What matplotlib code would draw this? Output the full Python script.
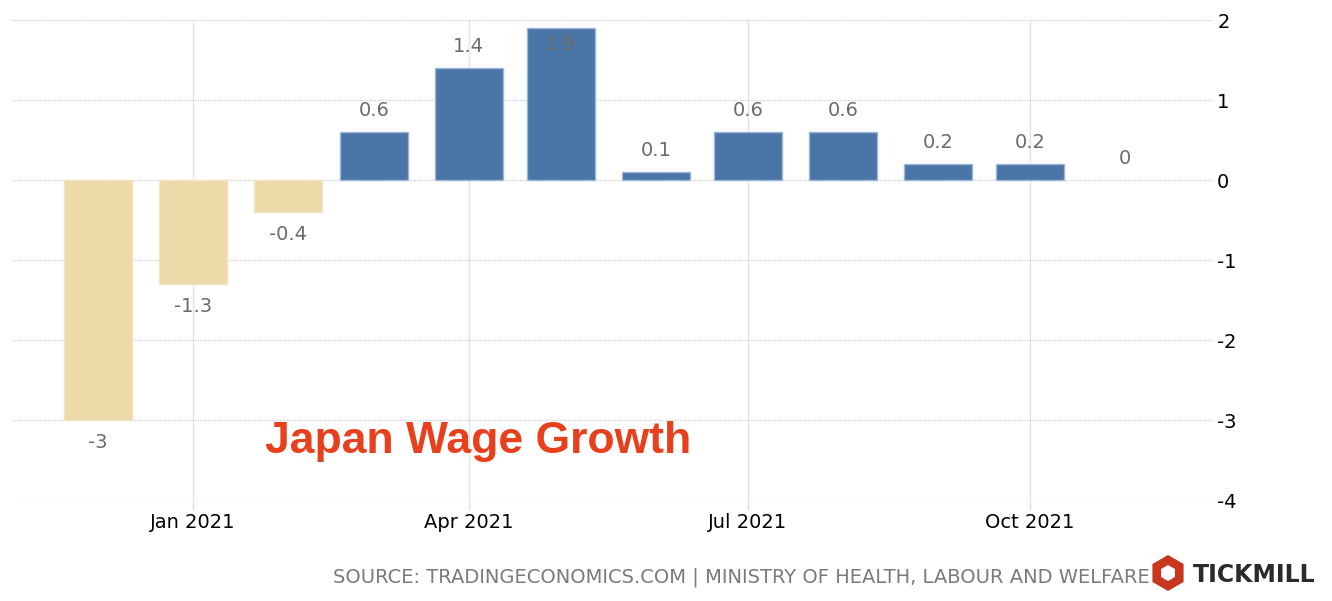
import numpy as np
import pandas as pd
import matplotlib
matplotlib.use("Agg")
import matplotlib.pyplot as plt
import matplotlib.dates as mdates
from matplotlib.patches import RegularPolygon

months = pd.date_range("2020-12-01", "2021-11-01", freq="MS")
values = [-3, -1.3, -0.4, 0.6, 1.4, 1.9, 0.1, 0.6, 0.6, 0.2, 0.2, 0]
labels = ["-3", "-1.3", "-0.4", "0.6", "1.4", "1.9", "0.1", "0.6", "0.6", "0.2", "0.2", "0"]
xticks = pd.to_datetime(["2021-01-01", "2021-04-01", "2021-07-01", "2021-10-01"])
xticklabels = ["Jan 2021", "Apr 2021", "Jul 2021", "Oct 2021"]
yticks = [2, 1, 0, -1, -2, -3, -4]

tan = "#EED9A9"
blue = "#4A75A7"
colors = [tan if v < 0 else blue for v in values]
edges = ["#F3E4C2" if v < 0 else "#9DB6D6" for v in values]
lws = [0 if v == 0 else 1 for v in values]

fig = plt.figure(figsize=(13.32, 6.01), dpi=100)
ax = fig.add_axes([12/1332, 101/601, (1213-12)/1332, 480/601])

x = mdates.date2num(months)
ax.bar(x, values, width=22.3, color=colors, edgecolor=edges, linewidth=lws, zorder=3)

x0 = mdates.date2num(pd.Timestamp("2021-01-01"))
ax.set_xlim(x0 - 59, x0 + 332.7)
ax.set_ylim(-4, 2)

for xi, v, lab in zip(x, values, labels):
    if v >= 0:
        y = v + 0.27
        if y > 1.95:
            y = v - 0.2
    else:
        y = v - 0.28
    ax.text(xi, y, lab, ha="center", va="center", fontsize=14, color="#6b6b6b", zorder=4)

ax.set_yticks(yticks)
ax.set_yticklabels([str(t) for t in yticks])
ax.yaxis.tick_right()
ax.tick_params(axis="y", length=0, pad=3, labelsize=14, labelcolor="black")
ax.set_xticks(mdates.date2num(xticks))
ax.set_xticklabels(xticklabels)
ax.tick_params(axis="x", length=7, color="#dddddd", width=1, pad=2, labelsize=14, labelcolor="black")

ax.grid(axis="y", color="#cfcfcf", linestyle=(0, (1, 1)), linewidth=0.9, zorder=0)
ax.grid(axis="x", color="#e3e3e3", linestyle="-", linewidth=1, zorder=0)
for s in ax.spines.values():
    s.set_visible(False)

fig.text(265/1332, 1 - 441/601, "Japan Wage Growth", fontsize=32, fontweight="bold",
         color="#E8401C", family="Liberation Sans", ha="left", va="center")

fig.text(1150/1332, 1 - 577/601, "SOURCE: TRADINGECONOMICS.COM | MINISTRY OF HEALTH, LABOUR AND WELFARE",
         fontsize=14, color="#7a7a7a", ha="right", va="center")

hexa = RegularPolygon((11.68, 0.28), numVertices=6, radius=0.18, orientation=0,
                      transform=fig.dpi_scale_trans, facecolor="#C8361E", edgecolor="none")
fig.add_artist(hexa)
inner = RegularPolygon((11.68, 0.28), numVertices=6, radius=0.08, orientation=0,
                       transform=fig.dpi_scale_trans, facecolor="white", edgecolor="none")
fig.add_artist(inner)
fig.text(1193/1332, 1 - 575/601, "TICKMILL", fontsize=17, fontweight="bold", color="#2b2b2b",
         ha="left", va="center")

fig.savefig("out.png", dpi=100)
